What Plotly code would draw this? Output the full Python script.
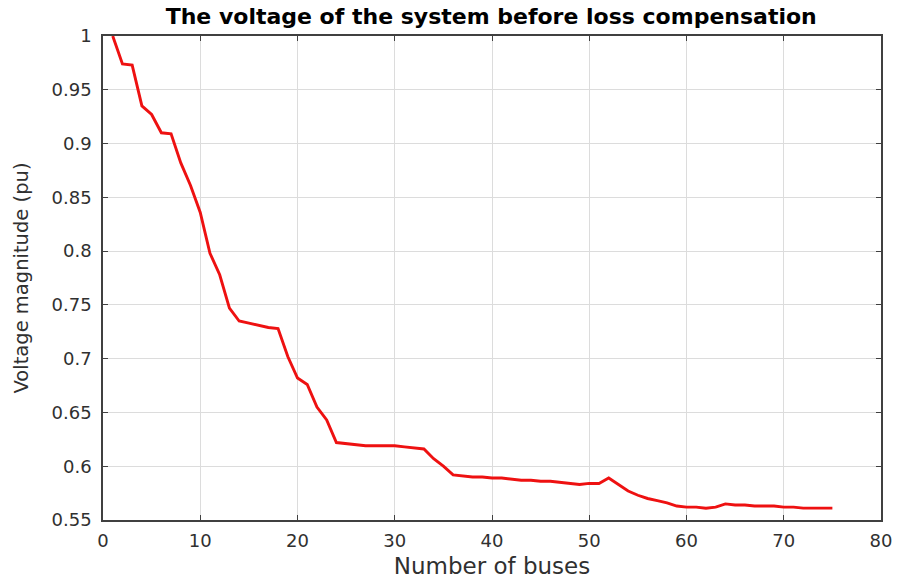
import plotly.graph_objects as go

# Bus index and per-unit voltage magnitude before loss compensation
buses = list(range(1, 76))
voltage = [
    1.000, 0.974, 0.973, 0.935, 0.927, 0.910, 0.909, 0.882, 0.861, 0.836,
    0.798, 0.778, 0.747, 0.735, 0.733, 0.731, 0.729, 0.728, 0.702, 0.682,
    0.676, 0.655, 0.643, 0.622, 0.621, 0.620, 0.619, 0.619, 0.619, 0.619,
    0.618, 0.617, 0.616, 0.607, 0.600, 0.592, 0.591, 0.590, 0.590, 0.589,
    0.589, 0.588, 0.587, 0.587, 0.586, 0.586, 0.585, 0.584, 0.583, 0.584,
    0.584, 0.589, 0.583, 0.577, 0.573, 0.570, 0.568, 0.566, 0.563, 0.562,
    0.562, 0.561, 0.562, 0.565, 0.564, 0.564, 0.563, 0.563, 0.563, 0.562,
    0.562, 0.561, 0.561, 0.561, 0.561,
]

x_ticks = [0, 10, 20, 30, 40, 50, 60, 70, 80]
y_ticks = [0.55, 0.6, 0.65, 0.7, 0.75, 0.8, 0.85, 0.9, 0.95, 1.0]
y_tick_text = ["0.55", "0.6", "0.65", "0.7", "0.75", "0.8", "0.85", "0.9", "0.95", "1"]

FONT = "DejaVu Sans, Verdana, sans-serif"
AXIS_COLOR = "#404040"
TEXT_COLOR = "#303030"

fig = go.Figure()
fig.add_trace(go.Scatter(
    x=buses, y=voltage, mode="lines",
    line=dict(color="#ee1111", width=2.9),
    showlegend=False,
))

axis_common = dict(
    showline=True, linecolor=AXIS_COLOR, linewidth=1.5, mirror="ticks",
    ticks="inside", ticklen=5, tickcolor=AXIS_COLOR, tickwidth=1,
    showgrid=True, gridcolor="#dcdcdc", gridwidth=1, zeroline=False,
    automargin=False,
    tickfont=dict(family=FONT, size=18, color=TEXT_COLOR),
)

fig.update_layout(
    width=898, height=583,
    margin=dict(l=103, r=17, t=36, b=63),
    paper_bgcolor="white", plot_bgcolor="white",
    title=dict(
        text="The voltage of the system before loss compensation",
        x=0.547, xanchor="center", y=0.972, yanchor="middle",
        font=dict(family=FONT, size=22, color="black", weight="bold"),
    ),
    xaxis=dict(
        range=[0, 80], tickvals=x_ticks, ticklabelstandoff=4,
        title=dict(text="Number of buses", standoff=8,
                   font=dict(family=FONT, size=23, color=TEXT_COLOR)),
        **axis_common,
    ),
    yaxis=dict(
        range=[0.55, 1.0], tickvals=y_ticks, ticktext=y_tick_text,
        ticklabelstandoff=6,
        title=dict(text="Voltage magnitude (pu)", standoff=18,
                   font=dict(family=FONT, size=19.5, color=TEXT_COLOR)),
        **axis_common,
    ),
)

fig.write_html("out.html")
